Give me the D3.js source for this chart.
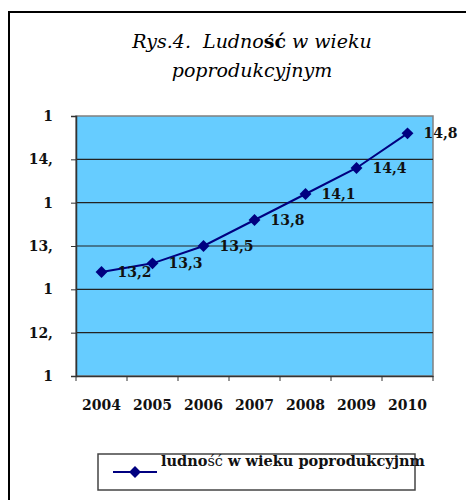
<!DOCTYPE html>
<html>
<head>
  <meta charset="utf-8">
  <title>Rys.4. Ludność w wieku poprodukcyjnym</title>
  <script src="https://cdnjs.cloudflare.com/ajax/libs/d3/7.8.5/d3.min.js"></script>
  <style>
    body { margin: 0; background: white; }
    svg { display: block; font-family: "DejaVu Serif", serif; }
  </style>
</head>
<body>
<svg id="chart" width="466" height="500"></svg>
<script>
  var years = ["2004", "2005", "2006", "2007", "2008", "2009", "2010"];
  var values = [13.2, 13.3, 13.5, 13.8, 14.1, 14.4, 14.8];
  var valueLabels = ["13,2", "13,3", "13,5", "13,8", "14,1", "14,4", "14,8"];
  var yTicks = [12, 12.5, 13, 13.5, 14, 14.5, 15];
  // the original labels are cut off at the left
  var yTickLabels = ["1", "12,", "1", "13,", "1", "14,", "1"];

  var svg = d3.select("#chart");

  // outer frame (runs off the right and bottom)
  svg.append("rect")
    .attr("x", 9).attr("y", 12)
    .attr("width", 480).attr("height", 520)
    .attr("fill", "none").attr("stroke", "black").attr("stroke-width", 2);

  // title
  var title = svg.append("text")
    .attr("x", 252).attr("y", 48)
    .attr("text-anchor", "middle")
    .style("font-size", "19px").style("font-style", "italic");
  title.append("tspan").text("Rys.4.\u00a0 Ludno");
  title.append("tspan").style("font-weight", "bold").style("font-style", "normal").text("ść");
  title.append("tspan").text(" w wieku");
  svg.append("text")
    .attr("x", 252).attr("y", 77)
    .attr("text-anchor", "middle")
    .style("font-size", "19px").style("font-style", "italic")
    .text("poprodukcyjnym");

  var plotLeft = 76, plotRight = 433, plotTop = 116, plotBottom = 376;

  var x = d3.scaleBand().domain(years).range([plotLeft, plotRight]);
  var y = d3.scaleLinear().domain([12, 15]).range([plotBottom, plotTop]);

  // plot area
  svg.append("rect")
    .attr("x", plotLeft).attr("y", plotTop)
    .attr("width", plotRight - plotLeft).attr("height", plotBottom - plotTop)
    .attr("fill", "#66ccff").attr("stroke", "#808080").attr("stroke-width", 1.5);

  // gridlines
  svg.append("g")
    .selectAll("line")
    .data(yTicks.filter(function (d) { return d > 12 && d < 15; }))
    .enter().append("line")
    .attr("x1", plotLeft).attr("x2", plotRight)
    .attr("y1", function (d) { return y(d); })
    .attr("y2", function (d) { return y(d); })
    .attr("stroke", "#222").attr("stroke-width", 1.2);

  // y axis
  var yAxis = svg.append("g")
    .attr("transform", "translate(" + plotLeft + ",0)")
    .call(d3.axisLeft(y).tickValues(yTicks)
      .tickFormat(function (d, i) { return yTickLabels[i]; })
      .tickSize(5).tickPadding(18));
  yAxis.select(".domain").attr("stroke", "#333").attr("stroke-width", 1.5);
  yAxis.selectAll(".tick line").attr("stroke", "#333");
  yAxis.selectAll("text")
    .style("font-family", "DejaVu Serif, serif")
    .style("font-size", "14px").style("font-weight", "bold").attr("fill", "#111");

  // x axis with ticks at category edges
  var xAxis = svg.append("g")
    .attr("transform", "translate(0," + plotBottom + ")")
    .call(d3.axisBottom(x).tickSize(0).tickPadding(24));
  xAxis.select(".domain").attr("stroke", "#333").attr("stroke-width", 1.5);
  xAxis.selectAll("text")
    .style("font-family", "DejaVu Serif, serif")
    .style("font-size", "14px").style("font-weight", "bold").attr("fill", "#111");
  var edges = years.map(function (d) { return x(d); }).concat([x(years[years.length - 1]) + x.bandwidth()]);
  xAxis.selectAll(".edge")
    .data(edges)
    .enter().append("line")
    .attr("x1", function (d) { return d; }).attr("x2", function (d) { return d; })
    .attr("y1", 0).attr("y2", 5)
    .attr("stroke", "#333");

  var cx = function (d, i) { return x(years[i]) + x.bandwidth() / 2; };

  // series line
  var line = d3.line()
    .x(function (d, i) { return cx(d, i); })
    .y(function (d) { return y(d); });
  svg.append("path")
    .datum(values)
    .attr("d", line)
    .attr("fill", "none").attr("stroke", "#000080").attr("stroke-width", 2);

  var diamond = d3.symbol().type(d3.symbolDiamond2).size(90);
  svg.append("g")
    .selectAll("path")
    .data(values)
    .enter().append("path")
    .attr("d", diamond)
    .attr("transform", function (d, i) { return "translate(" + cx(d, i) + "," + y(d) + ")"; })
    .attr("fill", "#000080");

  // value labels
  svg.append("g")
    .selectAll("text")
    .data(values)
    .enter().append("text")
    .attr("x", function (d, i) { return cx(d, i) + 16; })
    .attr("y", function (d) { return y(d) + 5; })
    .style("font-size", "14px").style("font-weight", "bold").attr("fill", "#111")
    .text(function (d, i) { return valueLabels[i]; });

  // legend
  svg.append("rect")
    .attr("x", 98).attr("y", 454).attr("width", 317).attr("height", 36)
    .attr("fill", "white").attr("stroke", "#444").attr("stroke-width", 1.5);
  svg.append("line")
    .attr("x1", 113).attr("x2", 157).attr("y1", 472).attr("y2", 472)
    .attr("stroke", "#000080").attr("stroke-width", 2);
  svg.append("path")
    .attr("d", diamond)
    .attr("transform", "translate(135,472)")
    .attr("fill", "#000080");
  var leg = svg.append("text")
    .attr("x", 161).attr("y", 466)
    .style("font-size", "14.5px").style("font-weight", "bold").attr("fill", "#111");
  leg.append("tspan").text("ludno");
  leg.append("tspan").style("font-weight", "normal").text("ść");
  leg.append("tspan").text(" w wieku poprodukcyjnm");
</script>
</body>
</html>
